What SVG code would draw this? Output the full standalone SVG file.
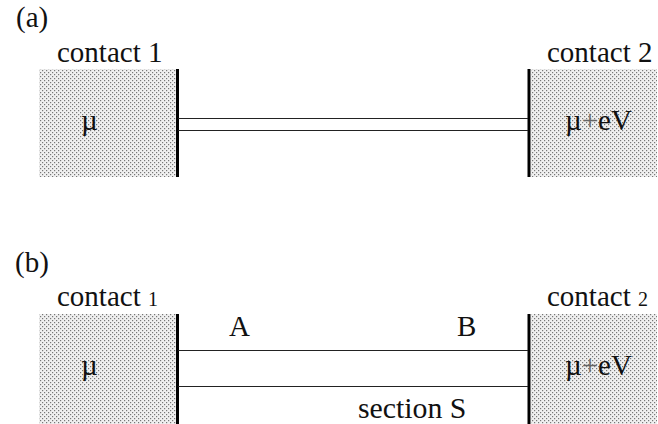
<svg xmlns="http://www.w3.org/2000/svg" width="658" height="424" viewBox="0 0 658 424">
<style>
text{font-family:"Liberation Serif","Times New Roman",serif;fill:#111;font-size:29px}
.s{font-size:20px}
.wall{stroke:#000;stroke-width:3;fill:none}
.wire{stroke:#222;stroke-width:1.2;fill:none}
.box{fill:url(#dots)}
.p{fill:#666}
</style>
<defs><pattern id="dots" width="4" height="4" patternUnits="userSpaceOnUse">
<rect width="4" height="4" fill="#f0f0f0"/>
<rect width="1.2" height="1.2" fill="#777"/><rect x="2" y="2" width="1.2" height="1.2" fill="#777"/>
</pattern></defs>
<rect width="658" height="424" fill="#fff"/>
<text x="16" y="27">(a)</text>
<text x="15" y="272">(b)</text>
<g id="contact1a"><rect class="box" x="39" y="69" width="137" height="108"/><text x="57" y="62">contact 1</text><text x="81" y="130">µ</text></g>
<g id="contact2a"><rect class="box" x="531" y="69" width="126" height="108"/><text x="547" y="62">contact 2</text><text x="565" y="130">µ<tspan class="p">+</tspan>eV</text></g>
<g id="contact1b"><rect class="box" x="39" y="314" width="137" height="110"/><text x="57" y="306">contact <tspan class="s">1</tspan></text><text x="81" y="375">µ</text></g>
<g id="contact2b"><rect class="box" x="531" y="314" width="126" height="110"/><text x="547" y="306">contact <tspan class="s">2</tspan></text><text x="565" y="375">µ<tspan class="p">+</tspan>eV</text></g>
<g id="connectors">
<path class="wall" d="M177.500 69V177M529 69V177M177.500 314V424M529 314V424"/>
<path class="wire" d="M178 118.500H528M178 130.500H528M178 350.500H528M178 386.500H528"/>
</g>
<text x="229" y="336">A</text>
<text x="457" y="336">B</text>
<text x="358" y="418" style="font-size:29.800px">section S</text>
</svg>
